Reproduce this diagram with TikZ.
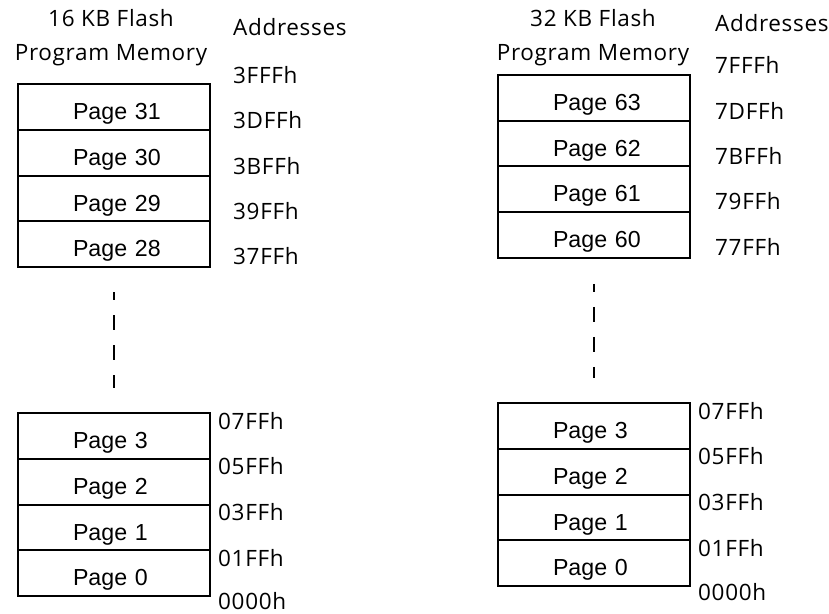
\documentclass[tikz,border=0pt]{standalone}
\usepackage{fontspec}
\usepackage{tikz}
\usetikzlibrary{positioning}
\newfontfamily\pagesfont{Liberation Sans}
\newfontfamily\addrfont[LetterSpace=3]{Open Sans}

\begin{document}
\begin{tikzpicture}[
    x=1pt, y=-1pt,
    pagebox/.style={draw, line width=2pt, minimum width=192pt, minimum height=45.75pt, inner xsep=46pt, inner ysep=0pt, outer sep=0pt, text width=100pt, align=left, text height=25pt, text depth=0pt, execute at begin node={\hspace*{9pt}}, font=\pagesfont\fontsize{23.2}{27}\selectfont},
    addr/.style={inner sep=0pt, font=\addrfont\fontsize{22.5}{26}\selectfont},
    heading/.style={inner sep=0pt, align=center, font=\addrfont\fontsize{22.5}{34}\selectfont},
    cont/.style={line width=2pt, dash pattern=on 15pt off 15pt, dash phase=7pt}
]
\useasboundingbox (0,0) rectangle (829,613);

% 16 KB Flash
\node (t16) [heading] at (111,37.5) {16 KB Flash\\Program Memory};
\node (addr16) [addr, anchor=west] at (233,27) {Addresses};

\node (p31) [pagebox] at (114,107) {Page 31};
\node (p30) [pagebox, below=0pt of p31] {Page 30};
\node (p29) [pagebox, below=0pt of p30] {Page 29};
\node (p28) [pagebox, below=0pt of p29] {Page 28};

\node (a3FFF) [addr, right=23pt of p31.north east, yshift=9pt] {3FFFh};
\node (a3DFF) [addr, right=23pt of p31.south east, yshift=10pt] {3DFFh};
\node (a3BFF) [addr, right=23pt of p30.south east, yshift=10pt] {3BFFh};
\node (a39FF) [addr, right=23pt of p29.south east, yshift=10pt] {39FFh};
\node (a37FF) [addr, right=23pt of p28.south east, yshift=11pt] {37FFh};

\node (p3) [pagebox] at (114,436) {Page 3};
\node (p2) [pagebox, below=0pt of p3] {Page 2};
\node (p1) [pagebox, below=0pt of p2] {Page 1};
\node (p0) [pagebox, below=0pt of p1] {Page 0};

\node (a07FF) [addr, right=8pt of p3.north east, yshift=-7.5pt] {07FFh};
\node (a05FF) [addr, right=8pt of p3.south east, yshift=-7.5pt] {05FFh};
\node (a03FF) [addr, right=8pt of p2.south east, yshift=-7.5pt] {03FFh};
\node (a01FF) [addr, right=8pt of p1.south east, yshift=-7.5pt] {01FFh};
\node (a0000) [addr, right=8pt of p0.south east, yshift=-4.5pt] {0000h};

\draw[cont] ([yshift=-25pt]p28.south) -- ([yshift=25pt]p3.north);

% 32 KB Flash
\node (t32) [heading] at (593,37.5) {32 KB Flash\\Program Memory};
\node (addr32) [addr, anchor=west] at (715,23) {Addresses};

\node (p63) [pagebox] at (594,97.75) {Page 63};
\node (p62) [pagebox, below=0pt of p63] {Page 62};
\node (p61) [pagebox, below=0pt of p62] {Page 61};
\node (p60) [pagebox, below=0pt of p61] {Page 60};

\node (b7FFF) [addr, right=25pt of p63.north east, yshift=10pt] {7FFFh};
\node (b7DFF) [addr, right=25pt of p63.south east, yshift=10pt] {7DFFh};
\node (b7BFF) [addr, right=25pt of p62.south east, yshift=10pt] {7BFFh};
\node (b79FF) [addr, right=25pt of p61.south east, yshift=11pt] {79FFh};
\node (b77FF) [addr, right=25pt of p60.south east, yshift=11pt] {77FFh};

\node (q3) [pagebox] at (594,426) {Page 3};
\node (q2) [pagebox, below=0pt of q3] {Page 2};
\node (q1) [pagebox, below=0pt of q2] {Page 1};
\node (q0) [pagebox, below=0pt of q1] {Page 0};

\node (b07FF) [addr, right=8pt of q3.north east, yshift=-7.5pt] {07FFh};
\node (b05FF) [addr, right=8pt of q3.south east, yshift=-7.5pt] {05FFh};
\node (b03FF) [addr, right=8pt of q2.south east, yshift=-7.5pt] {03FFh};
\node (b01FF) [addr, right=8pt of q1.south east, yshift=-7.5pt] {01FFh};
\node (b0000) [addr, right=8pt of q0.south east, yshift=-6pt] {0000h};

\draw[cont] ([yshift=-26pt]p60.south) -- ([yshift=25pt]q3.north);

\end{tikzpicture}
\end{document}
